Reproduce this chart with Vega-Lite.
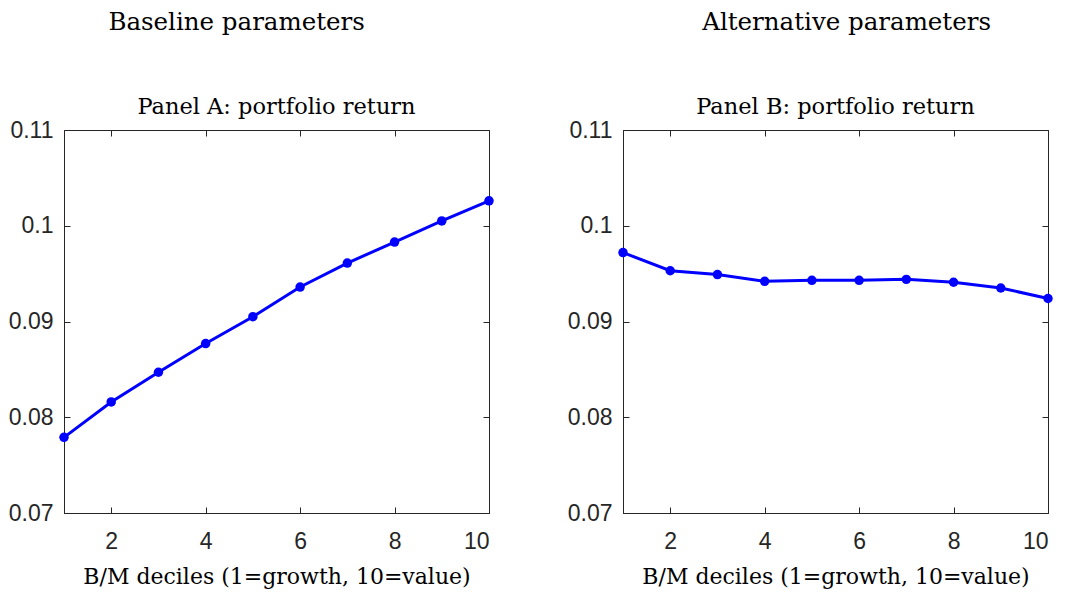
{
  "$schema": "https://vega.github.io/schema/vega-lite/v6.json",
  "padding": {"left": 7, "top": 9, "right": 12, "bottom": 2},
  "background": "white",
  "datasets": {
    "A": [
      {"decile": 1, "ret": 0.0779}, {"decile": 2, "ret": 0.0816}, {"decile": 3, "ret": 0.0847},
      {"decile": 4, "ret": 0.0877}, {"decile": 5, "ret": 0.0905}, {"decile": 6, "ret": 0.0936},
      {"decile": 7, "ret": 0.0961}, {"decile": 8, "ret": 0.0983}, {"decile": 9, "ret": 0.1005},
      {"decile": 10, "ret": 0.1026}
    ],
    "B": [
      {"decile": 1, "ret": 0.0972}, {"decile": 2, "ret": 0.0953}, {"decile": 3, "ret": 0.0949},
      {"decile": 4, "ret": 0.0942}, {"decile": 5, "ret": 0.0943}, {"decile": 6, "ret": 0.0943},
      {"decile": 7, "ret": 0.0944}, {"decile": 8, "ret": 0.0941}, {"decile": 9, "ret": 0.0935},
      {"decile": 10, "ret": 0.0924}
    ]
  },
  "config": {
    "view": {"stroke": "#262626", "strokeWidth": 1},
    "axis": {
      "grid": false,
      "domainColor": "#262626",
      "tickColor": "#262626",
      "tickSize": -6,
      "labelFont": "Liberation Sans",
      "labelFontSize": 23,
      "labelColor": "#262626",
      "titleFont": "DejaVu Serif",
      "titleFontSize": 22,
      "titleFontWeight": "normal",
      "titleColor": "#000000"
    },
    "title": {"font": "DejaVu Serif", "fontSize": 24.5, "fontWeight": "normal", "color": "#000000", "anchor": "middle"},
    "concat": {"spacing": 70}
  },
  "hconcat": [
    {
      "title": {"text": "Baseline parameters", "dx": -15, "offset": 60},
      "vconcat": [
        {
          "title": {"text": "Panel A: portfolio return", "offset": 1, "fontSize": 22.5},
          "width": 425,
          "height": 383,
          "data": {"name": "A"},
          "layer": [
            {
              "mark": {"type": "line", "color": "#0000FF", "strokeWidth": 3},
              "encoding": {
                "x": {"field": "decile", "type": "quantitative", "scale": {"domain": [1, 10], "nice": false, "zero": false},
                      "axis": {"orient": "bottom", "values": [2, 4, 6, 8, 10], "labelPadding": 23, "title": "B/M deciles (1=growth, 10=value)", "titlePadding": 13}},
                "y": {"field": "ret", "type": "quantitative", "scale": {"domain": [0.07, 0.11], "nice": false, "zero": false},
                      "axis": {"orient": "left", "values": [0.07, 0.08, 0.09, 0.1, 0.11], "format": "~g", "labelPadding": 17, "title": null, "labelFlush": false}}
              }
            },
            {
              "mark": {"type": "point", "filled": true, "color": "#0000FF", "size": 90, "opacity": 1},
              "encoding": {
                "x": {"field": "decile", "type": "quantitative", "axis": {"orient": "top", "values": [2, 4, 6, 8, 10], "labels": false, "title": null, "domain": false}},
                "y": {"field": "ret", "type": "quantitative", "axis": {"orient": "right", "values": [0.07, 0.08, 0.09, 0.1, 0.11], "labels": false, "title": null, "domain": false}}
              }
            }
          ],
          "resolve": {"axis": {"x": "independent", "y": "independent"}}
        }
      ]
    },
    {
      "title": {"text": "Alternative parameters", "dx": 36, "offset": 60},
      "vconcat": [
        {
          "title": {"text": "Panel B: portfolio return", "offset": 1, "fontSize": 22.5},
          "width": 425,
          "height": 383,
          "data": {"name": "B"},
          "layer": [
            {
              "mark": {"type": "line", "color": "#0000FF", "strokeWidth": 3},
              "encoding": {
                "x": {"field": "decile", "type": "quantitative", "scale": {"domain": [1, 10], "nice": false, "zero": false},
                      "axis": {"orient": "bottom", "values": [2, 4, 6, 8, 10], "labelPadding": 23, "title": "B/M deciles (1=growth, 10=value)", "titlePadding": 13}},
                "y": {"field": "ret", "type": "quantitative", "scale": {"domain": [0.07, 0.11], "nice": false, "zero": false},
                      "axis": {"orient": "left", "values": [0.07, 0.08, 0.09, 0.1, 0.11], "format": "~g", "labelPadding": 17, "title": null, "labelFlush": false}}
              }
            },
            {
              "mark": {"type": "point", "filled": true, "color": "#0000FF", "size": 90, "opacity": 1},
              "encoding": {
                "x": {"field": "decile", "type": "quantitative", "axis": {"orient": "top", "values": [2, 4, 6, 8, 10], "labels": false, "title": null, "domain": false}},
                "y": {"field": "ret", "type": "quantitative", "axis": {"orient": "right", "values": [0.07, 0.08, 0.09, 0.1, 0.11], "labels": false, "title": null, "domain": false}}
              }
            }
          ],
          "resolve": {"axis": {"x": "independent", "y": "independent"}}
        }
      ]
    }
  ]
}
